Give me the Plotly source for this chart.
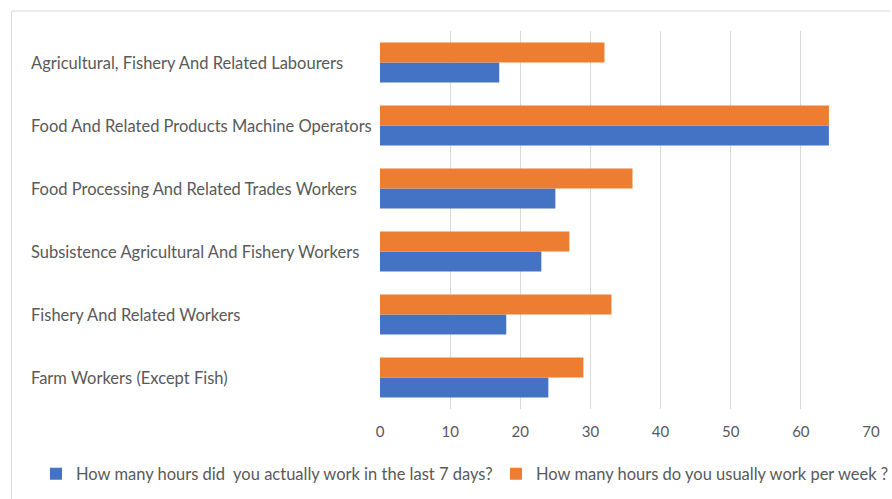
import plotly.graph_objects as go

# Occupations, listed top to bottom
occupations = [
    "Agricultural, Fishery And Related Labourers",
    "Food And Related Products Machine Operators",
    "Food Processing And Related Trades Workers",
    "Subsistence Agricultural And Fishery Workers",
    "Fishery And Related Workers",
    "Farm Workers (Except Fish)",
]
actual_hours = [17, 64, 25, 23, 18, 24]
usual_hours = [32, 64, 36, 27, 33, 29]

actual_label = "How many hours did  you actually work in the last 7 days?"
usual_label = "How many hours do you usually work per week ?"

x_ticks = [0, 10, 20, 30, 40, 50, 60, 70]

BLUE = "#4472C4"
ORANGE = "#ED7D31"
TEXT = "#595959"
FONT = "Lato, Open Sans, sans-serif"

fig = go.Figure()
fig.add_trace(go.Bar(
    y=occupations, x=actual_hours, orientation="h",
    name=actual_label, marker=dict(color=BLUE, line=dict(width=0)),
    legend="legend", showlegend=True,
))
fig.add_trace(go.Bar(
    y=occupations, x=usual_hours, orientation="h",
    name=usual_label, marker=dict(color=ORANGE, line=dict(width=0)),
    legend="legend2", showlegend=True,
))

W, H = 892, 499
L, R, T, B = 380, 19, 31, 90
pw, ph = W - L - R, H - T - B

def px_x(p):
    return (p - L) / pw

def px_y(p):
    return (H - B - p) / ph

# light chart frame on the left and top edges
frame = dict(color="#d9d9d9", width=1)
shapes = [
    dict(type="line", xref="paper", yref="paper",
         x0=px_x(10), x1=px_x(10), y0=px_y(11), y1=px_y(499), line=frame),
    dict(type="line", xref="paper", yref="paper",
         x0=px_x(10), x1=px_x(892), y0=px_y(11), y1=px_y(11), line=frame),
]

# left-aligned category labels
annotations = [
    dict(text=name, x=px_x(28), y=name, xref="paper", yref="y",
         xanchor="left", yanchor="middle", showarrow=False,
         font=dict(family=FONT, size=16.5, color=TEXT))
    for name in occupations
]

legend_style = dict(
    orientation="h", xref="container", yref="container",
    y=1 - 474 / H, xanchor="left", yanchor="middle",
    font=dict(size=16.5, color=TEXT), itemwidth=30,
    bgcolor="rgba(0,0,0,0)", visible=True,
)

fig.update_layout(
    width=W, height=H,
    showlegend=True,
    margin=dict(l=L, r=R, t=T, b=B),
    paper_bgcolor="white", plot_bgcolor="white",
    barmode="group", bargap=0.365, bargroupgap=0,
    font=dict(family=FONT, size=16, color=TEXT),
    shapes=shapes,
    annotations=annotations,
    legend=dict(x=36 / W, **legend_style),
    legend2=dict(x=496 / W, **legend_style),
    xaxis=dict(
        range=[0, 70], tickvals=x_ticks, showgrid=True,
        gridcolor="#d9d9d9", gridwidth=1, zeroline=False,
        showline=False, ticks="", ticklabelstandoff=12,
        tickfont=dict(size=15, color=TEXT),
        fixedrange=True,
    ),
    yaxis=dict(
        categoryorder="array", categoryarray=occupations[::-1],
        showgrid=False, showline=False, ticks="", showticklabels=False,
        fixedrange=True,
    ),
)

fig.write_html("out.html")
